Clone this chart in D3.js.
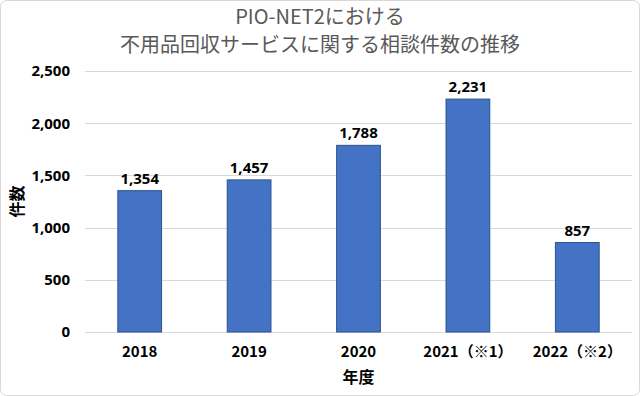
<!DOCTYPE html>
<html>
<head>
  <meta charset="utf-8">
  <title>PIO-NET2 相談件数</title>
  <script src="https://d3js.org/d3.v7.min.js"></script>
  <style>
    body { margin: 0; background: #fff; }
    text { font-family: "Noto Sans CJK JP", "Noto Sans", sans-serif; }
  </style>
</head>
<body>
  <svg id="chart" width="640" height="396"></svg>
  <script>
    // data
    var years = ["2018", "2019", "2020", "2021（※1）", "2022（※2）"];
    var counts = [1354, 1457, 1788, 2231, 857];
    var yTicks = [0, 500, 1000, 1500, 2000, 2500];
    var titleLines = ["PIO-NET2における", "不用品回収サービスに関する相談件数の推移"];

    var margin = { top: 71, right: 8, bottom: 64, left: 85 };
    var W = 640, H = 396;
    var width = W - margin.left - margin.right;
    var height = H - margin.top - margin.bottom;

    var svg = d3.select("#chart");

    // outer frame
    svg.append("rect")
      .attr("x", 0.5).attr("y", 0.5)
      .attr("width", W - 1).attr("height", H - 1)
      .attr("rx", 6)
      .attr("fill", "#fff")
      .attr("stroke", "#d9d9d9");

    // title, one text per line
    svg.selectAll(".title")
      .data(titleLines)
      .enter().append("text")
      .attr("class", "title")
      .attr("x", W / 2)
      .attr("y", function(d, i) { return 24 + i * 27.5; })
      .attr("text-anchor", "middle")
      .attr("fill", "#595959")
      .style("font-size", "20px")
      .text(function(d) { return d; });

    var g = svg.append("g")
      .attr("transform", "translate(" + margin.left + "," + margin.top + ")");

    var x = d3.scaleBand()
      .domain(years)
      .range([0, width])
      .paddingInner(0.6)
      .paddingOuter(0.3);

    var y = d3.scaleLinear()
      .domain([0, 2500])
      .range([height, 0]);

    // gridlines
    g.append("g")
      .selectAll("line")
      .data(yTicks)
      .enter().append("line")
      .attr("x1", 0).attr("x2", width)
      .attr("y1", function(d) { return Math.round(y(d)) + 0.5; })
      .attr("y2", function(d) { return Math.round(y(d)) + 0.5; })
      .attr("stroke", "#d9d9d9")
      .attr("stroke-width", 1);

    // y axis
    var yAxis = g.append("g")
      .call(d3.axisLeft(y).tickValues(yTicks).tickSize(0).tickPadding(15).tickFormat(d3.format(",")));
    yAxis.select(".domain").remove();
    yAxis.selectAll("text")
      .attr("fill", "#000")
      .style("font-size", "15px")
      .style("font-weight", "bold")
      .style("font-family", "\"Noto Sans\", sans-serif");

    // x axis
    var xAxis = g.append("g")
      .attr("transform", "translate(0," + height + ")")
      .call(d3.axisBottom(x).tickSize(0).tickPadding(14));
    xAxis.select(".domain").remove();
    xAxis.selectAll("text")
      .attr("fill", "#000")
      .style("font-size", "15px")
      .style("font-weight", "bold");

    // bars
    g.selectAll(".bar")
      .data(years)
      .enter().append("rect")
      .attr("class", "bar")
      .attr("x", function(d) { return x(d); })
      .attr("y", function(d, i) { return y(counts[i]); })
      .attr("width", x.bandwidth())
      .attr("height", function(d, i) { return height - y(counts[i]); })
      .attr("fill", "#4472c4")
      .attr("stroke", "#2f528f")
      .attr("stroke-width", 1);

    // value labels
    g.selectAll(".val")
      .data(years)
      .enter().append("text")
      .attr("class", "val")
      .attr("x", function(d) { return x(d) + x.bandwidth() / 2; })
      .attr("y", function(d, i) { return y(counts[i]) - 7; })
      .attr("text-anchor", "middle")
      .attr("fill", "#000")
      .style("font-size", "15px")
      .style("font-weight", "bold")
      .style("font-family", "\"Noto Sans\", sans-serif")
      .text(function(d, i) { return d3.format(",")(counts[i]); });

    // axis titles
    svg.append("text")
      .attr("x", margin.left + width / 2)
      .attr("y", 383)
      .attr("text-anchor", "middle")
      .attr("fill", "#000")
      .style("font-size", "16px")
      .style("font-weight", "bold")
      .text("年度");

    svg.append("text")
      .attr("transform", "translate(23," + (margin.top + height / 2) + ") rotate(-90)")
      .attr("text-anchor", "middle")
      .attr("fill", "#000")
      .style("font-size", "16px")
      .style("font-weight", "bold")
      .text("件数");
  </script>
</body>
</html>
